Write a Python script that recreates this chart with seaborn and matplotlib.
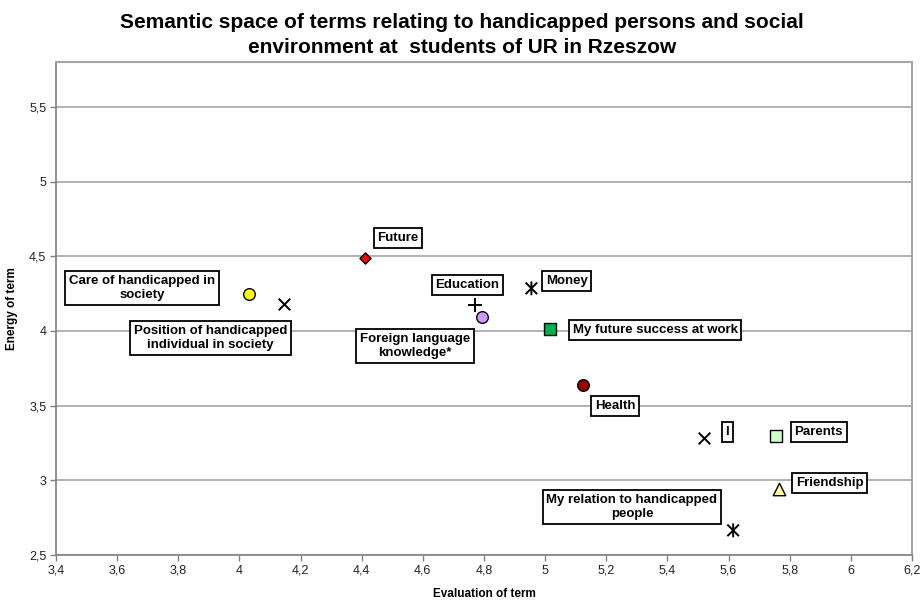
import matplotlib
matplotlib.use("Agg")
import matplotlib.pyplot as plt
from matplotlib.path import Path
from matplotlib.ticker import FixedLocator, FuncFormatter
import seaborn as sns
import pandas as pd

# Semantic differential results: evaluation (x) vs energy (y) of each term
terms = [
    "Care of handicapped in\nsociety",
    "Position of handicapped\nindividual in society",
    "Future",
    "Education",
    "Foreign language\nknowledge*",
    "Money",
    "My future success at work",
    "Health",
    "I",
    "Parents",
    "Friendship",
    "My relation to handicapped\npeople",
]
evaluation = [4.03, 4.145, 4.41, 4.77, 4.795, 4.955, 5.015, 5.125, 5.52, 5.755, 5.765, 5.615]
energy = [4.25, 4.18, 4.485, 4.175, 4.09, 4.285, 4.01, 3.635, 3.285, 3.295, 2.945, 2.665]

# Label box centres (data coordinates)
label_x = [3.682, 3.906, 4.519, 4.746, 4.575, 5.071, 5.36, 5.229, 5.596, 5.895, 5.931, 5.284]
label_y = [4.288, 3.953, 4.623, 4.308, 3.90, 4.335, 4.007, 3.498, 3.324, 3.324, 2.982, 2.821]

x_ticks = [3.4, 3.6, 3.8, 4.0, 4.2, 4.4, 4.6, 4.8, 5.0, 5.2, 5.4, 5.6, 5.8, 6.0, 6.2]
y_ticks = [2.5, 3.0, 3.5, 4.0, 4.5, 5.0, 5.5]

# Star marker: a cross with a vertical stroke through it
star = Path(
    [(-1, -1), (1, 1), (-1, 1), (1, -1), (0, -1.2), (0, 1.2)],
    [Path.MOVETO, Path.LINETO, Path.MOVETO, Path.LINETO, Path.MOVETO, Path.LINETO],
)

styles = [
    dict(marker="o", facecolor="#FFFF00", s=70),
    dict(marker="x", facecolor="black", s=70),
    dict(marker="D", facecolor="#FF0000", s=32),
    dict(marker="+", facecolor="black", s=90),
    dict(marker="o", facecolor="#CC99FF", s=70),
    dict(marker=star, facecolor="none", s=100),
    dict(marker="s", facecolor="#00B050", s=70),
    dict(marker="o", facecolor="#990000", s=70),
    dict(marker="x", facecolor="black", s=70),
    dict(marker="s", facecolor="#CCFFCC", s=70),
    dict(marker="^", facecolor="#FFFF99", s=80),
    dict(marker=star, facecolor="none", s=100),
]

sns.set_theme(style="white")
plt.rcParams["font.family"] = ["Liberation Sans", "DejaVu Sans"]
plt.rcParams["text.color"] = "black"
plt.rcParams["axes.labelcolor"] = "black"

fig = plt.figure(figsize=(9.24, 6.03), dpi=100)
ax = fig.add_axes([56 / 924, 48 / 603, 856 / 924, 493 / 603])

df = pd.DataFrame({"term": terms, "evaluation": evaluation, "energy": energy})

ax.grid(axis="y", color="#A6A6A6", linewidth=1.2)
ax.set_axisbelow(True)

for i, row in df.iterrows():
    st = styles[i]
    sub = df.iloc[[i]]
    if st["marker"] in ("o", "D", "s", "^"):
        sns.scatterplot(data=sub, x="evaluation", y="energy", ax=ax,
                        marker=st["marker"], s=st["s"], color=st["facecolor"],
                        edgecolor="black", linewidth=1.0, zorder=3, legend=False)
    elif st["marker"] is star:
        sns.scatterplot(data=sub, x="evaluation", y="energy", ax=ax,
                        marker=st["marker"], s=st["s"], facecolor="none",
                        edgecolor="black", linewidth=1.4, zorder=3, legend=False)
    else:
        sns.scatterplot(data=sub, x="evaluation", y="energy", ax=ax,
                        marker=st["marker"], s=st["s"], color="black",
                        linewidth=1.4, zorder=3, legend=False)

for t, lx, ly in zip(terms, label_x, label_y):
    ax.text(lx, ly, t, ha="center", va="center", fontsize=9.5, fontweight="bold",
            color="black", linespacing=1.25, zorder=4,
            bbox=dict(boxstyle="square,pad=0.28", facecolor="white",
                      edgecolor="black", linewidth=1.3))

ax.set_xlim(3.4, 6.2)
ax.set_ylim(2.5, 5.8)
ax.xaxis.set_major_locator(FixedLocator(x_ticks))
ax.yaxis.set_major_locator(FixedLocator(y_ticks))
fmt = FuncFormatter(lambda v, p: f"{v:g}".replace(".", ","))
ax.xaxis.set_major_formatter(fmt)
ax.yaxis.set_major_formatter(fmt)
ax.tick_params(axis="both", which="major", direction="out", length=4, width=1,
               color="#808080", labelsize=9, labelcolor="#222222", pad=3,
               bottom=True, left=True)

for side in ("left", "bottom"):
    ax.spines[side].set_color("#808080")
    ax.spines[side].set_linewidth(1.2)
for side in ("top", "right"):
    ax.spines[side].set_color("#A6A6A6")
    ax.spines[side].set_linewidth(1.5)

ax.set_xlabel("Evaluation of term", fontsize=8.5, fontweight="bold", labelpad=8)
ax.set_ylabel("Energy of term", fontsize=8.5, fontweight="bold", labelpad=8)

fig.text(0.5, 0.942, "Semantic space of terms relating to handicapped persons and social\n"
         "environment at  students of UR in Rzeszow",
         ha="center", va="center", fontsize=15, fontweight="bold", linespacing=1.4,
         color="black")

fig.savefig("out.png", dpi=100)
